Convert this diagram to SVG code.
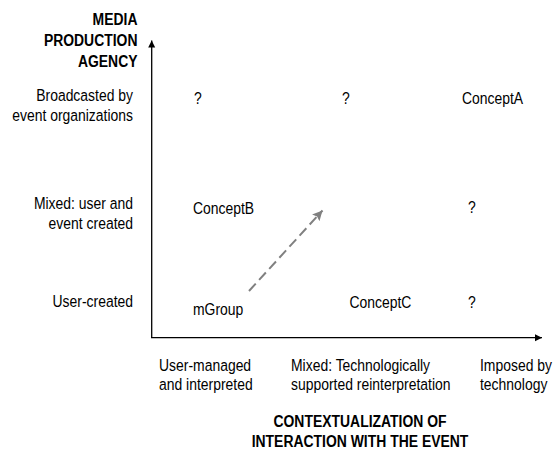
<svg xmlns="http://www.w3.org/2000/svg" width="553" height="449" viewBox="0 0 553 449">
<style>
text{font-family:"Liberation Sans",Arial,sans-serif;font-size:17px;fill:#000}
.b{font-weight:bold}
.r{text-anchor:end}
.c{text-anchor:middle}
.axis{stroke:#000;stroke-width:1.3;fill:none}
.dash{stroke:#808080;stroke-width:2;stroke-dasharray:10,5;fill:none}
</style>
<defs>
<marker id="ah" markerWidth="8" markerHeight="8" refX="7" refY="3.5" orient="auto" markerUnits="userSpaceOnUse">
<path d="M0,0 L7,3.5 L0,7 Z" fill="#000"/>
</marker>
<marker id="gh" markerWidth="12" markerHeight="12" refX="10" refY="5" orient="auto" markerUnits="userSpaceOnUse">
<path d="M0,0 L10,5 L0,10 L2,5 Z" fill="#808080"/>
</marker>
</defs>
<g id="connectors">
<line class="axis" x1="151.7" y1="338" x2="151.7" y2="40.5" marker-end="url(#ah)"/>
<line class="axis" x1="151" y1="337.7" x2="542" y2="337.7" marker-end="url(#ah)"/>
<line class="dash" x1="249" y1="291" x2="322.5" y2="210.5" marker-end="url(#gh)"/>
</g>
<g id="y-axis-title"><text class="b r" transform="translate(137.5,25) scale(0.82,1)">MEDIA</text><text class="b r" transform="translate(137.5,46) scale(0.82,1)">PRODUCTION</text><text class="b r" transform="translate(137.5,67) scale(0.82,1)">AGENCY</text></g>
<g id="y-label-broadcast"><text class="r" transform="translate(133,101) scale(0.82,1)">Broadcasted by</text><text class="r" transform="translate(133,121) scale(0.82,1)">event organizations</text></g>
<g id="y-label-mixed"><text class="r" transform="translate(133,209) scale(0.82,1)">Mixed: user and</text><text class="r" transform="translate(133,229) scale(0.82,1)">event created</text></g>
<g id="y-label-user"><text class="r" transform="translate(133,307) scale(0.82,1)">User-created</text></g>
<g id="q1"><text transform="translate(194,104) scale(0.82,1)">?</text></g>
<g id="q2"><text transform="translate(342,104) scale(0.82,1)">?</text></g>
<g id="conceptA"><text transform="translate(462,104) scale(0.82,1)">ConceptA</text></g>
<g id="conceptB"><text transform="translate(193,214) scale(0.82,1)">ConceptB</text></g>
<g id="q3"><text transform="translate(468,213) scale(0.82,1)">?</text></g>
<g id="mGroup"><text transform="translate(193,314.5) scale(0.82,1)">mGroup</text></g>
<g id="conceptC"><text transform="translate(349.5,307.5) scale(0.82,1)">ConceptC</text></g>
<g id="q4"><text transform="translate(468,307.5) scale(0.82,1)">?</text></g>
<g id="x-label-user"><text transform="translate(159,371) scale(0.82,1)">User-managed</text><text transform="translate(159,390) scale(0.82,1)">and interpreted</text></g>
<g id="x-label-mixed"><text transform="translate(291,371) scale(0.82,1)">Mixed: Technologically</text><text transform="translate(291,390) scale(0.82,1)">supported reinterpretation</text></g>
<g id="x-label-tech"><text transform="translate(480,371) scale(0.82,1)">Imposed by</text><text transform="translate(480,390) scale(0.82,1)">technology</text></g>
<g id="x-axis-title"><text class="b c" transform="translate(360,427) scale(0.82,1)">CONTEXTUALIZATION OF</text><text class="b c" transform="translate(360,447) scale(0.82,1)">INTERACTION WITH THE EVENT</text></g>
</svg>
